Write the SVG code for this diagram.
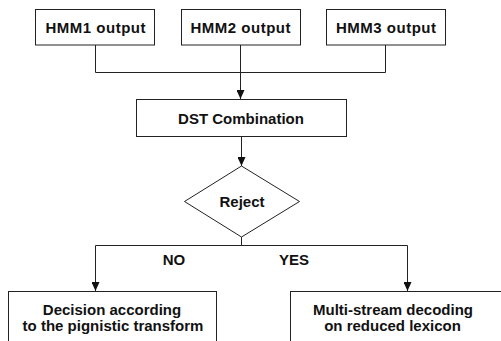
<svg xmlns="http://www.w3.org/2000/svg" width="501" height="341" viewBox="0 0 501 341">
<defs>
<style>
.box{fill:#fff;stroke:#222;stroke-width:1}
.ln{fill:none;stroke:#222;stroke-width:1}
.t{font-family:"Liberation Sans",Arial,sans-serif;font-weight:bold;font-size:15px;fill:#111;text-anchor:middle}
</style>
<marker id="arr" viewBox="0 0 9 8" refX="9" refY="4" markerWidth="9" markerHeight="8" markerUnits="userSpaceOnUse" orient="auto">
<path d="M0,0 L9,4 L0,8 Z" fill="#111"/>
</marker>
</defs>
<g id="connectors">
<path class="ln" d="M95.5,45 V72.5 H385.5 V45"/>
<path class="ln" d="M240.5,45 V99" marker-end="url(#arr)"/>
<path class="ln" d="M241.5,136.5 V166" marker-end="url(#arr)"/>
<path class="ln" d="M241.5,237 V245.5 M95.5,245.5 H407.5"/>
<path class="ln" d="M95.5,245.5 V291" marker-end="url(#arr)"/>
<path class="ln" d="M407.5,245.5 V291" marker-end="url(#arr)"/>
<text class="t" x="174" y="265">NO</text>
<text class="t" x="294" y="265">YES</text>
</g>
<g id="hmm1">
<rect class="box" x="35.5" y="9.5" width="119" height="35.5"/>
<text class="t" x="95.5" y="32.5" textLength="100" lengthAdjust="spacing">HMM1 output</text>
</g>
<g id="hmm2">
<rect class="box" x="181.5" y="9.5" width="119" height="35.5"/>
<text class="t" x="240.5" y="32.5" textLength="100" lengthAdjust="spacing">HMM2 output</text>
</g>
<g id="hmm3">
<rect class="box" x="326.5" y="9.5" width="119" height="35.5"/>
<text class="t" x="386" y="32.5" textLength="100" lengthAdjust="spacing">HMM3 output</text>
</g>
<g id="dst">
<rect class="box" x="136.5" y="99.5" width="210" height="37"/>
<text class="t" x="241" y="124">DST Combination</text>
</g>
<g id="reject">
<path class="box" d="M241.5,166 L299.5,201.5 L241.5,237 L184.5,201.5 Z"/>
<text class="t" x="242" y="207">Reject</text>
</g>
<g id="decision">
<rect class="box" x="8.5" y="291.5" width="208" height="60"/>
<text class="t" x="112" y="315">Decision according</text>
<text class="t" x="113" y="331">to the pignistic transform</text>
</g>
<g id="multistream">
<rect class="box" x="290.5" y="291.5" width="220" height="60"/>
<text class="t" x="393" y="315">Multi-stream decoding</text>
<text class="t" x="392.5" y="331">on reduced lexicon</text>
</g>
</svg>
